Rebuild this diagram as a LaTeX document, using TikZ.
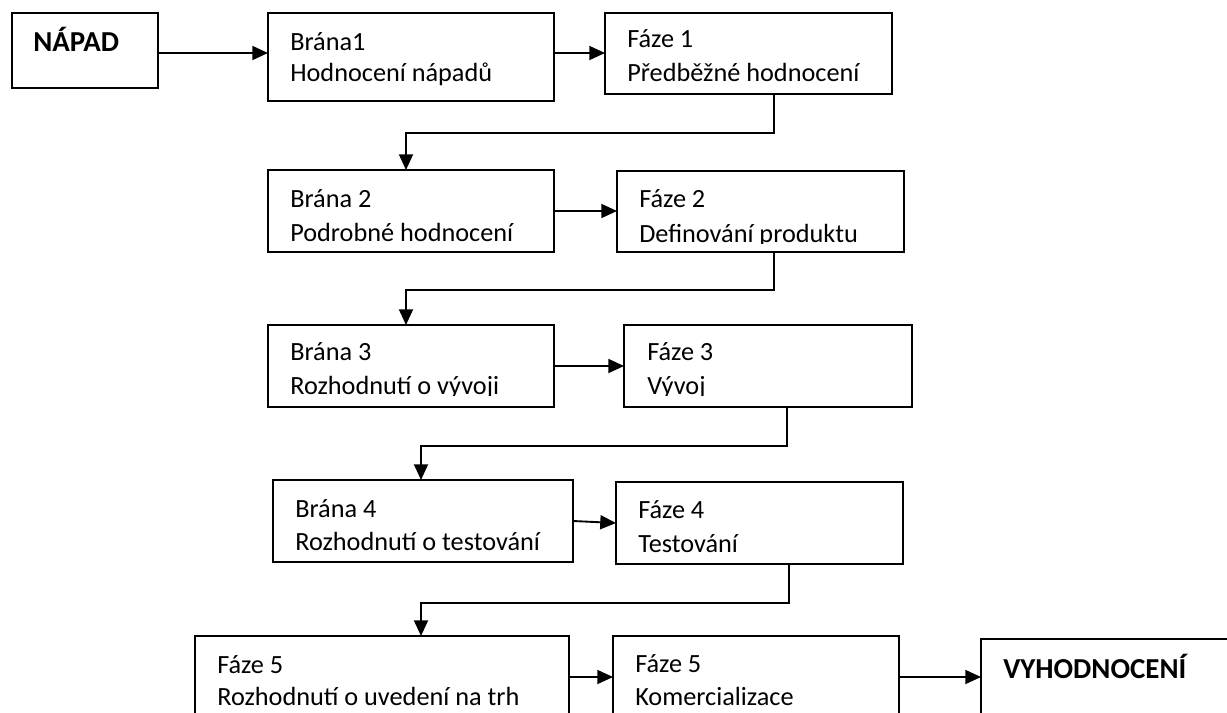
\documentclass[tikz,border=0pt]{standalone}
\usepackage{fontspec}
\setmainfont{Carlito}
\usetikzlibrary{arrows.meta,calc}
% rectangle given by its corners (x1,y1) and (x2,y2), in pixel units
\newcommand\stage[5]{\node[stagebox, minimum width={(#4-(#2))*0.75pt}, minimum height={(#5-(#3))*0.75pt}] (#1) at ({(#2+#4)/2},{(#3+#5)/2}) {};}
\begin{document}
\begin{tikzpicture}[x=0.75pt,y=-0.75pt,
  stagebox/.style={draw, line width=1.4pt, rectangle, inner sep=0pt, outer sep=0pt},
  txt/.style={anchor=base west, inner sep=0pt, font=\fontsize{19.7}{23}\selectfont},
  btxt/.style={anchor=base west, inner sep=0pt, font=\fontsize{21.7}{25}\selectfont\bfseries},
  link/.style={line width=1.4pt},
  arr/.style={link, -{Triangle[length=11.8pt,width=10.5pt]}},
]
\useasboundingbox (0,0) rectangle (1227,713);
\clip (0,0) rectangle (1227,713);

% boxes
\stage{napad}{12}{13}{158}{88}
\stage{b1}{268}{13}{554}{101}
\stage{f1}{605}{13}{892}{94}
\stage{b2}{268}{170}{554}{252}
\stage{f2}{617}{171}{904}{252}
\stage{b3}{268}{325}{554}{407}
\stage{f3}{624}{325}{912}{407}
\stage{b4}{273}{480}{573}{562}
\stage{f4}{616}{482}{903}{564}
\stage{g5}{195}{636}{569}{780}
\stage{f5}{613}{636}{899}{780}
\stage{vyh}{981}{639}{1280}{780}

% texts
\node[btxt] (napadt) at (33,52) {NÁPAD};
\node[txt] (b1a) at (290,51) {Brána1};
\node[txt] (b1b) at (290,82) {Hodnocení nápadů};
\node[txt] (f1a) at (627,48) {Fáze 1};
\node[txt] (f1b) at (627,82) {Předběžné hodnocení};
\node[txt] (b2a) at (290,207) {Brána 2};
\node[txt] (b2b) at (290,241) {Podrobné hodnocení};
\node[txt] (f2a) at (639,207) {Fáze 2};
\begin{scope}
  \clip (617,171) rectangle (904,243);
  \node[txt] (f2b) at (639,242) {Definování produktu};
\end{scope}
\node[txt] (b3a) at (290,360) {Brána 3};
\node[txt] (f3a) at (647,360) {Fáze 3};
\begin{scope}
  \clip (268,325) rectangle (912,395.5);
  \node[txt] (b3b) at (290,394) {Rozhodnutí o vývoji};
  \node[txt] (f3b) at (647,394) {Vývoj};
\end{scope}
\node[txt] (b4a) at (295,517) {Brána 4};
\node[txt] (b4b) at (295,550) {Rozhodnutí o testování};
\node[txt] (f4a) at (638,518) {Fáze 4};
\node[txt] (f4b) at (638,552) {Testování};
\node[txt] (g5a) at (217,673) {Fáze 5};
\node[txt] (g5b) at (217,705) {Rozhodnutí o uvedení na trh};
\node[txt] (f5a) at (635,672) {Fáze 5};
\node[txt] (f5b) at (635,705) {Komercializace};
\node[btxt] (vyht) at (1003,678) {VYHODNOCENÍ};

% horizontal arrows
\draw[arr] ($(napad.north east)+(0,40)$) -- ($(b1.north west)+(0,40)$);
\draw[arr] ($(b1.north east)+(0,40)$) -- ($(f1.north west)+(0,40)$);
\draw[arr] ($(b2.north east)+(0,41)$) -- ($(f2.north west)+(0,40)$);
\draw[arr] ($(b3.north east)+(0,41)$) -- ($(f3.north west)+(0,41)$);
\draw[arr] ($(b4.north east)+(0,41)$) -- ($(f4.north west)+(0,41)$);
\draw[arr] ($(g5.north east)+(0,41)$) -- ($(f5.north west)+(0,41)$);
\draw[arr] ($(f5.north east)+(0,41)$) -- ($(vyh.north west)+(0,38)$);

% return connectors between rows
\coordinate (k1a) at (774,133); \coordinate (k1b) at (406,133);
\coordinate (k2a) at (774,290); \coordinate (k2b) at (406,290);
\coordinate (k3a) at (787,446); \coordinate (k3b) at (421,446);
\coordinate (k4a) at (789,603); \coordinate (k4b) at (421,603);
\draw[arr] (f1.south -| k1a) -- (k1a) -- (k1b) -- (b2.north -| k1b);
\draw[arr] (f2.south -| k2a) -- (k2a) -- (k2b) -- (b3.north -| k2b);
\draw[arr] (f3.south -| k3a) -- (k3a) -- (k3b) -- (b4.north -| k3b);
\draw[arr] (f4.south -| k4a) -- (k4a) -- (k4b) -- (g5.north -| k4b);
\end{tikzpicture}
\end{document}
